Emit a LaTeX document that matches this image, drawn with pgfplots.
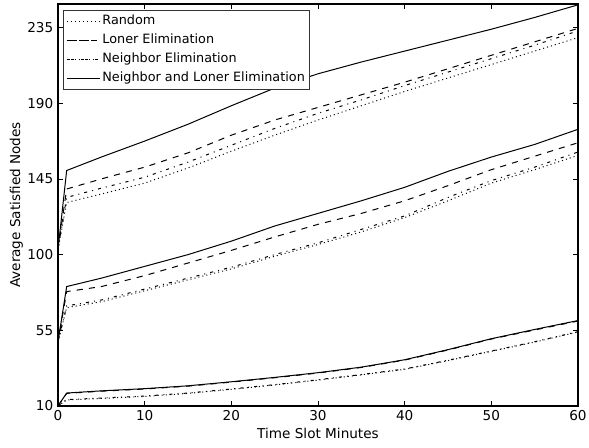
\documentclass[border=0pt]{standalone}
\usepackage{fontspec}
\setmainfont{DejaVu Sans}
\usepackage{pgfplots}
\pgfplotsset{compat=1.18}
\usepackage{pgfplotstable}

% group 3 (top)
\pgfplotstableread{
x rnd lon nei both
0 103 103 103 103
1 131 139 134 150
5 136 145 139.5 158
10 142.5 152 146 167.5
15 151.5 160.5 155 177.5
20 161.5 171 165 188.5
25 171 180 175 199
30 180 187.5 184 207.5
35 188.5 195 192 214.5
40 197 202.5 200.5 221
45 205 210.5 208.5 227.5
50 213 218.5 216.5 234
55 221 226.5 224.5 241
60 229 234.5 233 248.5
}\gthree
% group 2 (middle)
\pgfplotstableread{
x rnd lon nei both
0 48 48 48 48
1 68.5 78 69.5 81
5 72 81 73 86
10 78.5 87.5 79.5 93
15 85 95 86 100
20 91.5 102.5 92.5 108
25 99 110.5 100 117
30 106 118 107 124.5
35 113.5 124.5 115 132
40 122 132 123 140
45 132 141 134 149.5
50 142.5 150.5 144 158
55 150.5 158.5 152 165.5
60 159 166.5 161 174.5
}\gtwo
% group 1 (bottom)
\pgfplotstableread{
x rnd lon nei both
0 10 10 10 10
1 13.6 17.5 13.8 17.7
5 14.5 18.8 14.7 19
10 15.7 20.1 15.9 20.3
15 17.5 21.8 17.7 22
20 19.9 24.2 20.1 24.4
25 22.5 26.8 22.7 27
30 25.4 29.6 25.6 29.8
35 28.5 32.9 28.7 33.1
40 31.8 37.3 32 37.5
45 37 43.3 37.2 43.5
50 42.5 49.8 42.7 50
55 48 55.2 48.2 55.5
60 54 60.5 54.2 60.8
}\gone

\tikzset{
  mdotted/.style={line width=0.75pt, dash pattern=on 0.75pt off 2.3pt},
  mdashed/.style={line width=0.75pt, dash pattern=on 4.6pt off 4.6pt},
  mdashdot/.style={line width=0.75pt, dash pattern=on 2.3pt off 3.8pt on 0.75pt off 3.8pt},
  msolid/.style={line width=0.75pt, solid},
}

\begin{document}
\begin{tikzpicture}
\begin{axis}[
  scale only axis,
  width=390pt, height=301.5pt,
  xmin=0, xmax=60, ymin=10, ymax=249,
  xtick={0,10,20,30,40,50,60},
  ytick={10,55,100,145,190,235},
  tick align=inside,
  major tick length=3.5pt,
  axis line style={line width=0.8pt},
  every tick/.style={black, line width=0.6pt},
  tick label style={font=\fontsize{10.2}{12}\selectfont},
  label style={font=\fontsize{10.2}{12}\selectfont},
  /pgf/number format/assume math mode=true,
  xlabel={Time Slot Minutes},
  ylabel={Average Satisfied Nodes},
  xlabel style={yshift=1.5pt},
  ylabel style={yshift=-3.5pt},
  legend style={at={(0,1)}, anchor=north west, xshift=3.75pt, yshift=-4.5pt,
    draw=black!80, line width=0.6pt, font=\fontsize{9.6}{11}\selectfont,
    row sep=2.4pt, inner xsep=2pt, inner ysep=2pt,
    nodes={inner xsep=1.5pt, inner ysep=1.5pt, text height=7pt, text depth=2pt}},
  legend cell align=left,
  legend image code/.code={\path (0pt,0pt) -- (25pt,0pt); \draw[#1] (3.25pt,0pt) -- (20.5pt,0pt);},
  every axis plot/.append style={black},
]
\addplot[mdotted] table[x=x,y=rnd]{\gthree};
\addplot[mdashed] table[x=x,y=lon]{\gthree};
\addplot[mdashdot] table[x=x,y=nei]{\gthree};
\addplot[msolid] table[x=x,y=both]{\gthree};
\legend{Random, Loner Elimination, Neighbor Elimination, Neighbor and Loner Elimination}
\addplot[mdotted, forget plot] table[x=x,y=rnd]{\gtwo};
\addplot[mdashed, forget plot] table[x=x,y=lon]{\gtwo};
\addplot[mdashdot, forget plot] table[x=x,y=nei]{\gtwo};
\addplot[msolid, forget plot] table[x=x,y=both]{\gtwo};
\addplot[mdotted, forget plot] table[x=x,y=rnd]{\gone};
\addplot[mdashed, forget plot] table[x=x,y=lon]{\gone};
\addplot[mdashdot, forget plot] table[x=x,y=nei]{\gone};
\addplot[msolid, forget plot] table[x=x,y=both]{\gone};
\end{axis}
\pgfresetboundingbox
\path (current axis.south west) ++(-43.5pt,-31.5pt) coordinate (bl);
\path (current axis.north east) ++(8.25pt,3pt) coordinate (tr);
\useasboundingbox (bl) rectangle (tr);
\end{tikzpicture}
\end{document}
